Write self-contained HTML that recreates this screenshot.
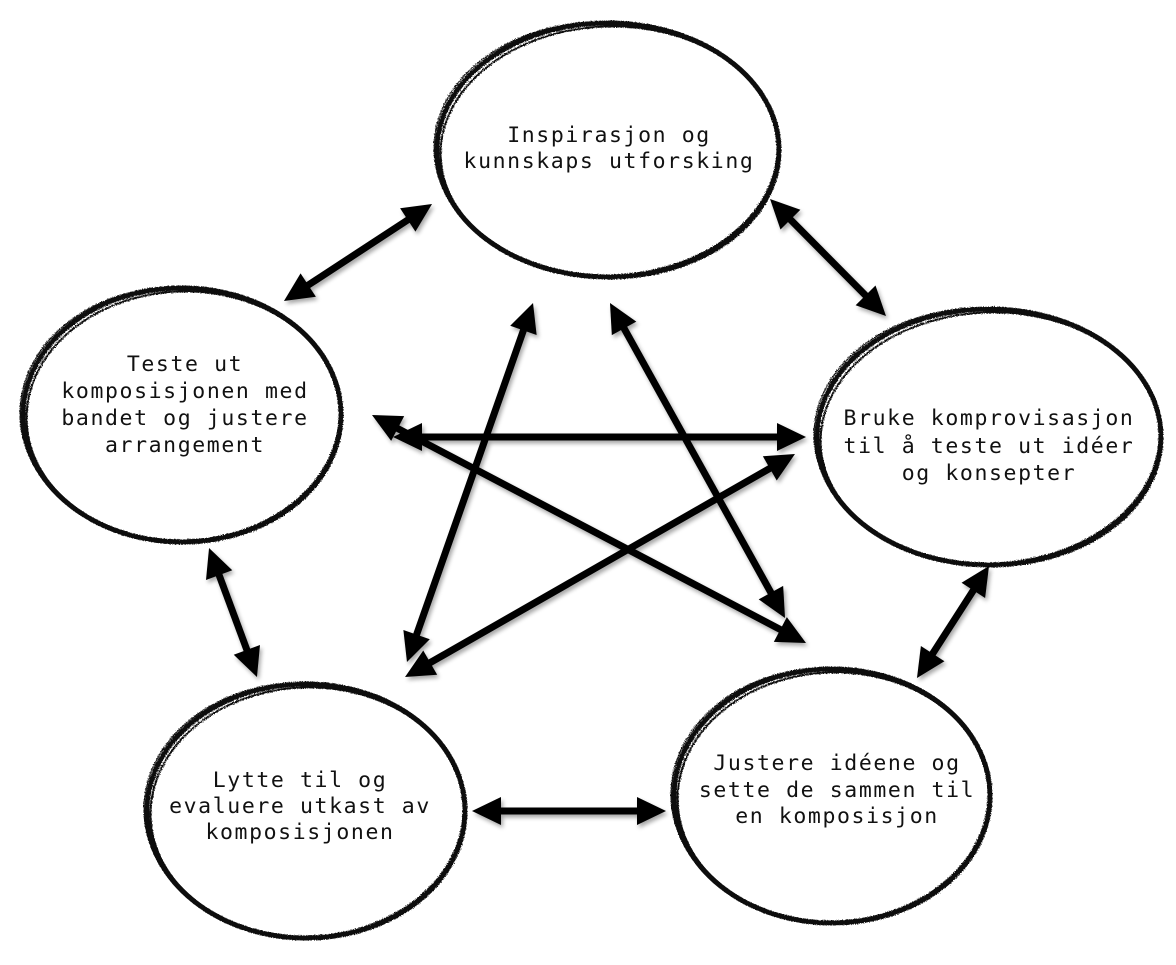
<!DOCTYPE html>
<html>
<head>
<meta charset="utf-8">
<style>
  html, body { margin:0; padding:0; background:#ffffff; }
  body { width:1176px; height:965px; overflow:hidden; }
  svg { display:block; }
  text { font-family:"DejaVu Sans Mono", "Liberation Mono", monospace; font-size:21.5px; letter-spacing:1.6px; fill:#111; }
</style>
</head>
<body>
<svg width="1176" height="965" viewBox="0 0 1176 965" xmlns="http://www.w3.org/2000/svg">
  <defs>
    <marker id="ah" markerUnits="userSpaceOnUse" markerWidth="30" markerHeight="28" refX="9" refY="14" orient="auto-start-reverse" overflow="visible">
      <path d="M0,0 L29,14 L0,28 z" fill="#000"/>
    </marker>
    <filter id="sh" x="-10%" y="-10%" width="130%" height="130%">
      <feGaussianBlur in="SourceAlpha" stdDeviation="2.2"/>
      <feOffset dx="2" dy="3" result="b"/>
      <feComponentTransfer><feFuncA type="linear" slope="0.35"/></feComponentTransfer>
      <feMerge><feMergeNode/><feMergeNode in="SourceGraphic"/></feMerge>
    </filter>
    <filter id="rough" x="-5%" y="-5%" width="110%" height="110%">
      <feTurbulence type="fractalNoise" baseFrequency="0.9" numOctaves="2" seed="3" result="n"/>
      <feDisplacementMap in="SourceGraphic" in2="n" scale="2.5"/>
    </filter>
  </defs>

  <!-- Ellipses -->
  <g fill="none" stroke="#0a0a0a" filter="url(#rough)">
    <ellipse cx="608" cy="150" rx="171" ry="127" stroke-width="5"/>
    <ellipse cx="609" cy="151" rx="168.5" ry="124.5" stroke-width="2" transform="rotate(-2 608 150)"/>
    <ellipse cx="607" cy="150" rx="173" ry="128.5" stroke-width="1.2" transform="rotate(1.5 608 150)"/>

    <ellipse cx="182" cy="415" rx="159" ry="127" stroke-width="5"/>
    <ellipse cx="183" cy="416" rx="156.5" ry="124.5" stroke-width="2" transform="rotate(-2 182 415)"/>
    <ellipse cx="181" cy="415" rx="161" ry="128.5" stroke-width="1.2" transform="rotate(1.5 182 415)"/>

    <ellipse cx="989" cy="437" rx="172" ry="128" stroke-width="5"/>
    <ellipse cx="990" cy="438" rx="169.5" ry="125.5" stroke-width="2" transform="rotate(-2 989 437)"/>
    <ellipse cx="988" cy="437" rx="174" ry="129.5" stroke-width="1.2" transform="rotate(1.5 989 437)"/>

    <ellipse cx="306" cy="811" rx="159" ry="127" stroke-width="5"/>
    <ellipse cx="307" cy="812" rx="156.5" ry="124.5" stroke-width="2" transform="rotate(-2 306 811)"/>
    <ellipse cx="305" cy="811" rx="161" ry="128.5" stroke-width="1.2" transform="rotate(1.5 306 811)"/>

    <ellipse cx="832" cy="796" rx="158" ry="127" stroke-width="5"/>
    <ellipse cx="833" cy="797" rx="155.5" ry="124.5" stroke-width="2" transform="rotate(-2 832 796)"/>
    <ellipse cx="831" cy="796" rx="160" ry="128.5" stroke-width="1.2" transform="rotate(1.5 832 796)"/>
  </g>

  <!-- Arrows -->
  <g stroke="#000" stroke-width="7" fill="none" marker-start="url(#ah)" marker-end="url(#ah)" filter="url(#sh)">
    <line x1="300.7" y1="290" x2="415.3" y2="215"/>
    <line x1="784.1" y1="213.2" x2="871.9" y2="301.8"/>
    <line x1="216" y1="566.7" x2="250" y2="658.3"/>
    <line x1="492" y1="811" x2="646" y2="811"/>
    <line x1="978.2" y1="582.8" x2="927.8" y2="661.2"/>
    <line x1="413" y1="437" x2="786" y2="437"/>
    <line x1="389.7" y1="424.3" x2="788.3" y2="633.7"/>
    <line x1="422.4" y1="667.1" x2="777.6" y2="463.9"/>
    <line x1="526.4" y1="321.9" x2="413.6" y2="643.1"/>
    <line x1="619.7" y1="320.5" x2="775.3" y2="600.5"/>
  </g>

  <!-- Text -->
  <g text-anchor="middle">
    <text x="609" y="142">Inspirasjon og</text>
    <text x="609" y="168">kunnskaps utforsking</text>

    <text x="185" y="371">Teste ut</text>
    <text x="185" y="398">komposisjonen med</text>
    <text x="185" y="425">bandet og justere</text>
    <text x="185" y="452">arrangement</text>

    <text x="989" y="425">Bruke komprovisasjon</text>
    <text x="989" y="453">til å teste ut idéer</text>
    <text x="989" y="480">og konsepter</text>

    <text x="300" y="787">Lytte til og</text>
    <text x="300" y="813">evaluere utkast av</text>
    <text x="300" y="839">komposisjonen</text>

    <text x="837" y="770">Justere idéene og</text>
    <text x="837" y="797">sette de sammen til</text>
    <text x="837" y="823">en komposisjon</text>
  </g>
</svg>
</body>
</html>
